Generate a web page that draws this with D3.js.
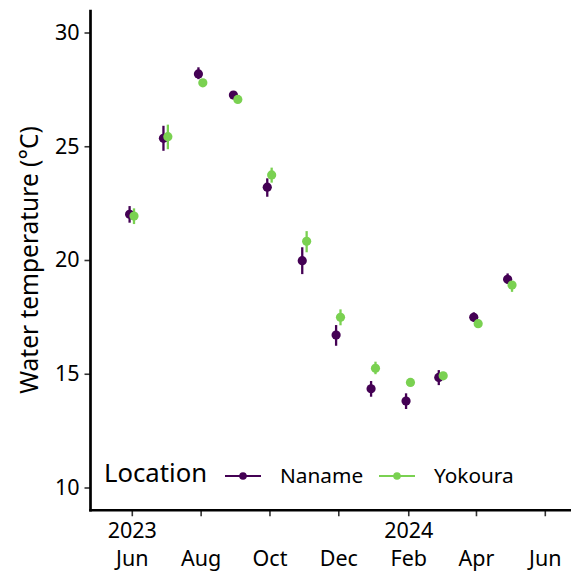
<!DOCTYPE html>
<html>
<head>
<meta charset="utf-8">
<script src="https://cdn.jsdelivr.net/npm/d3@7"></script>
<style>
  body { margin: 0; background: #fff; }
  svg { display: block; font-family: "Noto Sans", sans-serif; }
  svg text { font-family: "Noto Sans", sans-serif; fill: #000; }
</style>
</head>
<body>
<div id="wrapper"></div>
<script>
// sampling months (first of month)
const months = ["2023-06-01", "2023-07-01", "2023-08-01", "2023-09-01", "2023-10-01", "2023-11-01",
                "2023-12-01", "2024-01-01", "2024-02-01", "2024-03-01", "2024-04-01", "2024-05-01"]
const locations = ["Naname", "Yokoura"]
const colors = ["#440154", "#7AD151"]

// mean water temperature and error bar limits
const nanameMean = [22.01, 25.35, 28.18, 27.25, 23.2, 19.97, 16.7, 14.34, 13.8, 14.84, 17.48, 19.15]
const nanameLow  = [21.64, 24.8, 27.95, 27.1, 22.78, 19.38, 16.23, 13.99, 13.45, 14.5, 17.3, 18.95]
const nanameHigh = [22.37, 25.9, 28.47, 27.4, 23.59, 20.56, 17.14, 14.68, 14.14, 15.16, 17.7, 19.41]
const yokouraMean = [21.93, 25.42, 27.79, 27.06, 23.74, 20.82, 17.48, 15.24, 14.62, 14.91, 17.2, 18.9]
const yokouraLow  = [21.58, 24.87, 27.65, 26.95, 23.4, 20.34, 17.13, 14.98, 14.55, 14.8, 17.1, 18.6]
const yokouraHigh = [22.27, 25.95, 27.9, 27.15, 24.06, 21.27, 17.83, 15.53, 14.7, 15.0, 17.3, 19.05]

const yTicks = [10, 15, 20, 25, 30]
const xTicks = ["2023-06-01", "2023-08-01", "2023-10-01", "2023-12-01", "2024-02-01", "2024-04-01", "2024-06-01"]
const xYearLabels = ["2023", "", "", "", "2024", "", ""]
const xMonthLabels = ["Jun", "Aug", "Oct", "Dec", "Feb", "Apr", "Jun"]

const parseDate = d3.timeParse("%Y-%m-%d")
const dataset = []
months.forEach((m, i) => {
  dataset.push({ date: parseDate(m), loc: 0, mean: nanameMean[i], low: nanameLow[i], high: nanameHigh[i] })
  dataset.push({ date: parseDate(m), loc: 1, mean: yokouraMean[i], low: yokouraLow[i], high: yokouraHigh[i] })
})

const dimensions = { width: 571, height: 573, left: 90.5, right: 571, top: 9.75, bottom: 510.25 }
const tickFont = "21.5px"

const svg = d3.select("#wrapper").append("svg")
    .attr("width", dimensions.width)
    .attr("height", dimensions.height)

const xScale = d3.scaleTime()
    .domain([parseDate("2023-06-01"), parseDate("2024-06-01")])
    .range([131.8, 544.8])

const yScale = d3.scaleLinear()
    .domain([9, 31])
    .range([dimensions.bottom, dimensions.top])

const dodge = d => (d.loc === 0 ? -2.2 : 2.2)
const xAccessor = d => xScale(d.date) + dodge(d)

// error bars first, then points
svg.append("g").selectAll("line")
  .data(dataset)
  .join("line")
    .attr("x1", xAccessor)
    .attr("x2", xAccessor)
    .attr("y1", d => yScale(d.low))
    .attr("y2", d => yScale(d.high))
    .attr("stroke", d => colors[d.loc])
    .attr("stroke-width", 2.3)

svg.append("g").selectAll("circle")
  .data(dataset)
  .join("circle")
    .attr("cx", xAccessor)
    .attr("cy", d => yScale(d.mean))
    .attr("r", 4.6)
    .attr("fill", d => colors[d.loc])

// axes
const yAxis = svg.append("g")
    .attr("transform", `translate(${dimensions.left},0)`)
    .call(d3.axisLeft(yScale).tickValues(yTicks).tickSize(6).tickPadding(5).tickSizeOuter(0))
yAxis.select(".domain").remove()
yAxis.selectAll(".tick line").attr("stroke", "#333").attr("stroke-width", 1.6)
yAxis.selectAll(".tick text").style("font-size", tickFont)

const xAxis = svg.append("g")
    .attr("transform", `translate(0,${dimensions.bottom})`)
    .call(d3.axisBottom(xScale).tickValues(xTicks.map(parseDate)).tickSize(6).tickFormat(() => ""))
xAxis.select(".domain").remove()
xAxis.selectAll(".tick line").attr("stroke", "#333").attr("stroke-width", 1.6)
xAxis.selectAll(".tick text").remove()

xAxis.selectAll(".tick").each(function(d, i) {
  const g = d3.select(this)
  if (xYearLabels[i]) {
    g.append("text")
        .attr("y", 28)
        .attr("text-anchor", "middle")
        .style("font-size", tickFont)
        .text(xYearLabels[i])
  }
  g.append("text")
      .attr("y", 56)
      .attr("text-anchor", "middle")
      .style("font-size", tickFont)
      .text(xMonthLabels[i])
})

// axis lines
svg.append("line")
    .attr("x1", dimensions.left).attr("x2", dimensions.left)
    .attr("y1", dimensions.top).attr("y2", dimensions.bottom + 1.3)
    .attr("stroke", "#000").attr("stroke-width", 2.7)
svg.append("line")
    .attr("x1", dimensions.left - 1.3).attr("x2", dimensions.right)
    .attr("y1", dimensions.bottom).attr("y2", dimensions.bottom)
    .attr("stroke", "#000").attr("stroke-width", 2.7)

// y axis title
svg.append("text")
    .attr("transform", `translate(38,${(dimensions.top + dimensions.bottom) / 2}) rotate(-90)`)
    .attr("text-anchor", "middle")
    .style("font-size", "24.5px")
    .text("Water temperature (°C)")

// legend
const legend = svg.append("g")
legend.append("text")
    .attr("x", 104)
    .attr("y", 482)
    .style("font-size", "25.7px")
    .text("Location")
const legendX = [225, 379]
locations.forEach((name, i) => {
  const item = legend.append("g").attr("transform", `translate(${legendX[i]},476)`)
  item.append("line")
      .attr("x1", 0).attr("x2", 36)
      .attr("stroke", colors[i]).attr("stroke-width", 2.2)
  item.append("circle")
      .attr("cx", 18).attr("r", 3.8)
      .attr("fill", colors[i])
  item.append("text")
      .attr("x", 55)
      .attr("y", 7)
      .style("font-size", "20.8px")
      .text(name)
})
</script>
</body>
</html>
